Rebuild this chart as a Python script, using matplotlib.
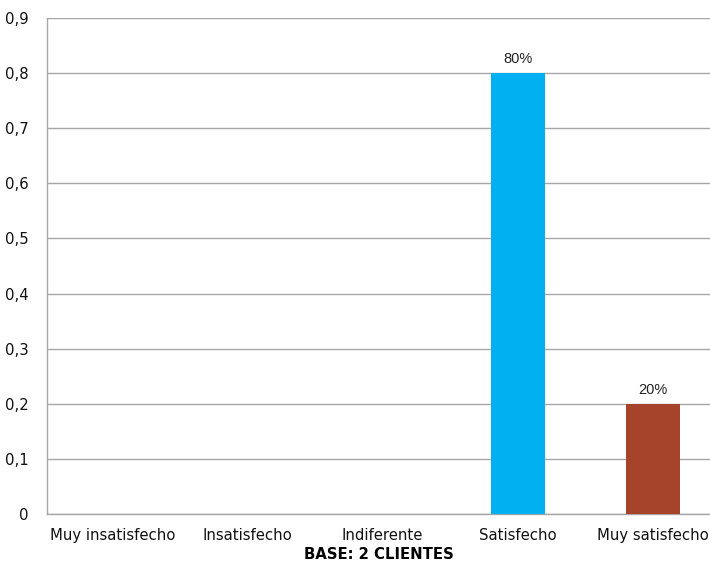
import matplotlib
matplotlib.use("Agg")
import matplotlib.pyplot as plt
from matplotlib.ticker import FuncFormatter

categories = ["Muy insatisfecho", "Insatisfecho", "Indiferente", "Satisfecho", "Muy satisfecho"]
values = [0, 0, 0, 0.8, 0.2]
labels = ["", "", "", "80%", "20%"]
colors = ["#00B0F0", "#00B0F0", "#00B0F0", "#00B0F0", "#A5432B"]
yticks = [0, 0.1, 0.2, 0.3, 0.4, 0.5, 0.6, 0.7, 0.8, 0.9]

fig = plt.figure(figsize=(7.1, 5.65), dpi=100)
ax = fig.add_axes([47/710, 1-514/565, 1-47/710, (514-18)/565])

x = list(range(len(categories)))
bars = ax.bar(x, values, width=0.4, color=colors, zorder=3)
for b, lab, v in zip(bars, labels, values):
    if lab:
        ax.text(b.get_x()+b.get_width()/2, v+0.012, lab, ha="center", va="bottom",
                fontsize=10.5, family="Liberation Sans", color="#222222")

ax.set_ylim(0, 0.9)
ax.set_xlim(-0.485, 4.425)
ax.set_yticks(yticks)
ax.yaxis.set_major_formatter(FuncFormatter(lambda v, p: "0" if v == 0 else f"{v:.1f}".replace(".", ",")))
ax.set_xticks(x)
ax.set_xticklabels(categories)
ax.tick_params(axis="both", length=0, labelsize=10.7, colors="#111111")
ax.tick_params(axis="y", pad=13)
ax.tick_params(axis="x", pad=10)
ax.grid(axis="y", color="#A6A6A6", linewidth=1, zorder=0)
for s in ["top", "right"]:
    ax.spines[s].set_visible(False)
for s in ["left", "bottom"]:
    ax.spines[s].set_color("#A6A6A6")
    ax.spines[s].set_linewidth(1)
ax.set_xlabel("BASE: 2 CLIENTES", fontsize=10.7, fontweight="bold", labelpad=3)

fig.savefig("out.png", dpi=100)
